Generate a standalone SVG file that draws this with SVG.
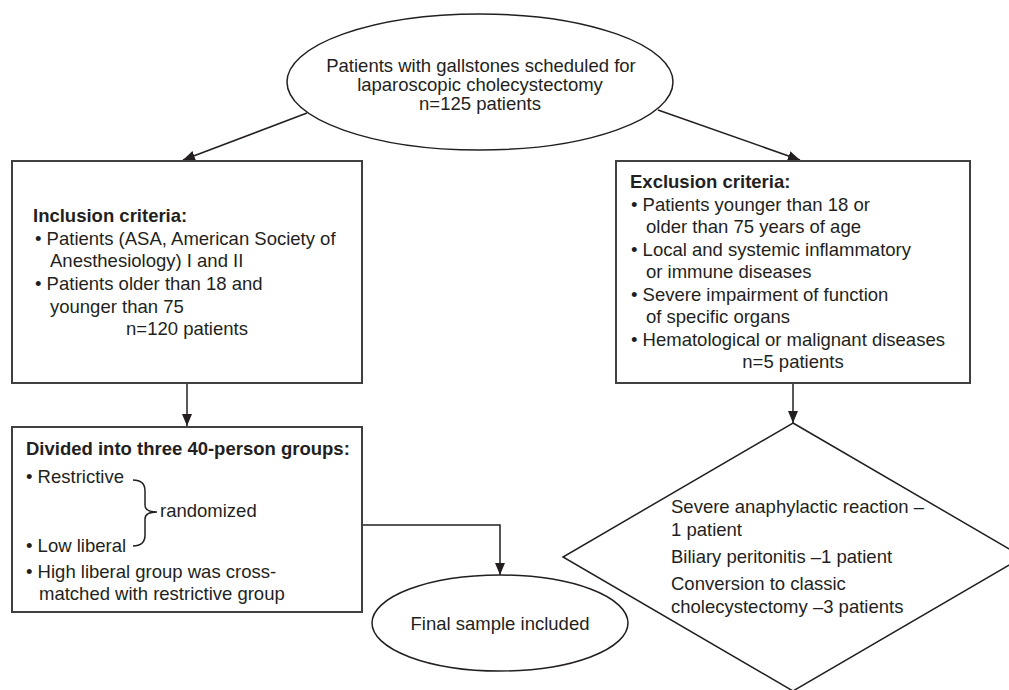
<svg xmlns="http://www.w3.org/2000/svg" width="1009" height="690" viewBox="0 0 1009 690">
<defs>
<style>
text{font-family:"Liberation Sans",Arial,sans-serif;font-size:18.5px;fill:#231f20}
.b{font-weight:bold}
.m{text-anchor:middle}
.shape{fill:#fff;stroke:#231f20;stroke-width:1.5}
.box{fill:#fff;stroke:#404040;stroke-width:2}
.con{fill:none;stroke:#231f20;stroke-width:1.5}
</style>
<marker id="ah" viewBox="0 0 12 10" refX="12" refY="5" markerWidth="12" markerHeight="10" markerUnits="userSpaceOnUse" orient="auto">
<path d="M0,0 L12,5 L0,10 Z" fill="#231f20"/>
</marker>
</defs>
<rect width="1009" height="690" fill="#fff"/>
<g id="connectors">
<line class="con" x1="307" y1="113" x2="183" y2="160" marker-end="url(#ah)"/>
<line class="con" x1="658" y1="110" x2="800" y2="160" marker-end="url(#ah)"/>
<line class="con" x1="187" y1="383" x2="187" y2="426" marker-end="url(#ah)"/>
<line class="con" x1="793" y1="383" x2="793" y2="423" marker-end="url(#ah)"/>
<polyline class="con" points="362,525 500,525 500,575" marker-end="url(#ah)"/>
</g>
<g id="start">
<ellipse class="shape" cx="480" cy="82" rx="193" ry="68"/>
<text class="m" x="481" y="72">Patients with gallstones scheduled for</text>
<text class="m" x="480" y="91">laparoscopic cholecystectomy</text>
<text class="m" x="480" y="110">n=125 patients</text>
</g>
<g id="inclusion">
<rect class="box" x="12" y="161" width="350" height="222"/>
<text class="b" x="33" y="222">Inclusion criteria:</text>
<text x="35" y="245">• Patients (ASA, American Society of</text>
<text x="50" y="267">Anesthesiology) I and II</text>
<text x="35" y="290">• Patients older than 18 and</text>
<text x="50" y="313">younger than 75</text>
<text class="m" x="187" y="335">n=120 patients</text>
</g>
<g id="exclusion">
<rect class="box" x="616" y="161" width="354" height="222"/>
<text class="b" x="630" y="188">Exclusion criteria:</text>
<text x="631" y="211">• Patients younger than 18 or</text>
<text x="646" y="233">older than 75 years of age</text>
<text x="631" y="256">• Local and systemic inflammatory</text>
<text x="646" y="278">or immune diseases</text>
<text x="631" y="301">• Severe impairment of function</text>
<text x="646" y="323">of specific organs</text>
<text x="631" y="346">• Hematological or malignant diseases</text>
<text class="m" x="793" y="368">n=5 patients</text>
</g>
<g id="groups">
<rect class="box" x="12" y="427" width="350" height="185"/>
<text class="b" x="26" y="455">Divided into three 40-person groups:</text>
<text x="26" y="483">• Restrictive</text>
<text x="160" y="517">randomized</text>
<text x="26" y="552">• Low liberal</text>
<text x="26" y="578">• High liberal group was cross-</text>
<text x="39" y="600">matched with restrictive group</text>
<path class="con" d="M133,480 Q145,480 145,491 L145,505 Q145,512 157,512 Q145,512 145,519 L145,535 Q145,546 133,546"/>
</g>
<g id="excluded">
<polygon class="shape" points="793,423 1023,557 793,691 563,557"/>
<text x="671" y="513">Severe anaphylactic reaction –</text>
<text x="671" y="536">1 patient</text>
<text x="671" y="563">Biliary peritonitis –1 patient</text>
<text x="671" y="590">Conversion to classic</text>
<text x="671" y="613">cholecystectomy –3 patients</text>
</g>
<g id="final">
<ellipse class="shape" cx="500" cy="623" rx="128" ry="48"/>
<text class="m" x="500" y="630">Final sample included</text>
</g>
</svg>
